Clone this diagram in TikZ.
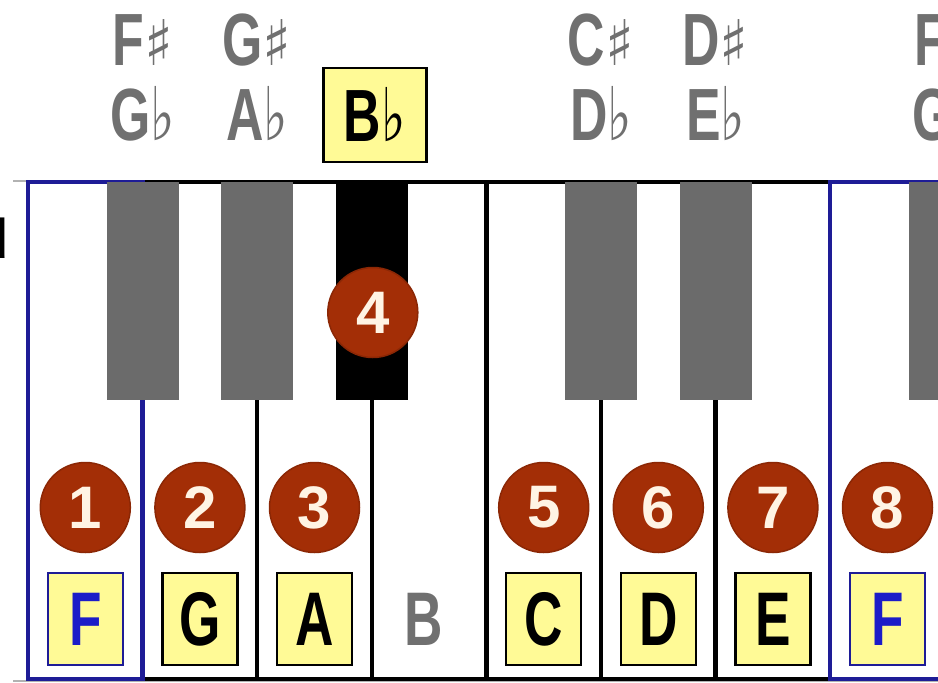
\documentclass[tikz,border=0pt]{standalone}
\usepackage{fontspec}
\setmainfont{Liberation Sans}
\newfontfamily\symfont{DejaVu Sans}
\usetikzlibrary{positioning, calc}

\definecolor{keygray}{RGB}{107,107,107}
\definecolor{labgray}{RGB}{112,112,112}
\definecolor{keyblue}{RGB}{30,28,150}
\definecolor{noteblue}{RGB}{28,28,200}
\definecolor{noteyel}{RGB}{255,250,150}
\definecolor{circred}{RGB}{163,46,6}
\definecolor{cream}{RGB}{255,244,228}

\newcommand{\shp}{{\symfont\bfseries\scalebox{1.15}[0.85]{♯}}}
\newcommand{\flt}{{\symfont\bfseries ♭}}
\newcommand{\narrow}[2][0.7]{\scalebox{#1}[1]{#2}}

\begin{document}
\begin{tikzpicture}[x=1pt, y=-1pt,
        wk/.style={draw, line width=4.5pt, minimum width=114.6pt, minimum height=497pt, inner sep=0, outer sep=0},
        bk/.style={fill=keygray, minimum width=72pt, minimum height=218pt, inner sep=0, outer sep=0, anchor=north},
        circ/.style={circle, fill=circred, draw=circred!85!black, line width=1.5pt, text=cream, minimum size=90pt, inner sep=0, font=\fontsize{60}{60}\selectfont\bfseries},
        nbox/.style={draw, line width=2.5pt, fill=noteyel, minimum width=75pt, minimum height=92pt, inner sep=0, font=\fontsize{76}{76}\selectfont\bfseries},
        lab/.style={text=labgray, inner sep=0, anchor=base, font=\fontsize{74}{74}\selectfont\bfseries}]
        \useasboundingbox (0,0) rectangle (938,683);
        \fill[white] (0,0) rectangle (938,683);

        % cut-off word at the left edge
        \node[anchor=base east, inner sep=0, font=\fontsize{56}{56}\selectfont] (cut) at (9,258) {d};

        % rim
        \draw[gray!60, line width=1.5pt] (13,181) -- (938,181) (13,681) -- (938,681);

        % white keys
        \node[wk, anchor=north west] (w1) at (28,182) {};
        \foreach \x [evaluate = \x as \xp using int(\x-1)] in {2, ..., 8}
        \node[wk, right=0 of w\xp] (w\x) {};
        \draw[keyblue, line width=4.5pt] (w1.south west) rectangle (w1.north east)
            (w8.south west) rectangle (w8.north east);

        % black keys
        \foreach \k/\n in {1/Fs, 2/Gs, 5/Cs, 6/Ds, 8/Fz}
        \node[bk] (\n) at (w\k.north east) {};
        \node[bk, fill=black] (Bb) at (w3.north east) {};

        % finger numbers
        \coordinate (crow) at (0,507.5);
        \foreach \k/\d in {1/1, 2/2, 3/3, 5/5, 6/6, 7/7, 8/8}
        \node[circ] (c\d) at (w\k |- crow) {\d};
        \node[circ] (c4) at ($(Bb.north)+(1,130.5)$) {4};

        % note names
        \coordinate (nrow) at (0,619);
        \foreach \k/\n in {2/G, 3/A, 5/C, 6/D, 7/E}
        \node[nbox] (n\k) at (w\k |- nrow) {\narrow{\n}};
        \foreach \k in {1, 8}
        \node[nbox, draw=keyblue, text=noteblue] (n\k) at (w\k |- nrow) {\narrow{F}};
        \node[lab, anchor=center, font=\fontsize{76}{76}\selectfont\bfseries] (n4) at ($(w4 |- nrow)+(-5,0)$) {\narrow{B}};

        % black key names
        \coordinate (srow) at (0,65);
        \coordinate (frow) at (0,140);
        \foreach \n/\a/\b in {Fs/F/G, Gs/G/A, Cs/C/D, Ds/D/E, Fz/F/G}
        \draw node[lab] (\n1) at (\n |- srow) {\narrow{\a\shp}}
              node[lab] (\n2) at (\n |- frow) {\narrow{\b\flt}};
        \node[lab, anchor=center, text=black, draw, line width=2.5pt, fill=noteyel, minimum width=103pt, minimum height=94pt] (Bbl) at ($(Bb |- 0,115)+(3,0)$) {\narrow{B\flt}};
\end{tikzpicture}
\end{document}
